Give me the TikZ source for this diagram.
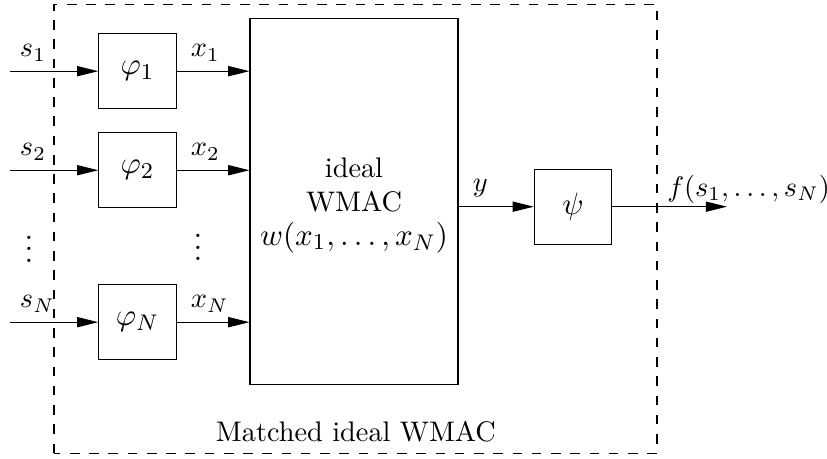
\documentclass[tikz,border=0pt]{standalone}
\usepackage{amsmath,amssymb}
\usepackage{tikz}
\usetikzlibrary{arrows.meta}
\newcommand{\boxmath}[1]{{\fontsize{11}{13.2}\selectfont$#1$}}

\begin{document}
\begin{tikzpicture}[>={Triangle[length=7.5pt,width=3.6pt]},
  blk/.style={draw,minimum width=0.96cm,minimum height=0.93cm}]
\useasboundingbox (0,0) rectangle (10.27,5.69);
\draw[dash pattern=on 3.4pt off 3.4pt] (0.671,0.062) rectangle (8.159,5.638);
\node (cap) at (4.42,0.33) {Matched ideal WMAC};
% encoders
\node[blk] (phi1) at (1.707,4.806) {\boxmath{\varphi_1}};
\node[blk] (phi2) at (1.707,3.576) {\boxmath{\varphi_2}};
\node[blk] (phiN) at (1.707,1.689) {\boxmath{\varphi_N}};
\node[inner sep=0pt,font=\large] (dl) at (0.36,2.70) {$\vdots$};
\node[inner sep=0pt,font=\large] (dm) at (2.459,2.72) {$\vdots$};
% channel and decoder
\node[draw,minimum width=2.582cm,minimum height=4.545cm] (wmac) at (4.396,3.191) {};
\node[align=center] (wtxt) at (4.396,3.14) {ideal\\WMAC\\\boxmath{w(x_1,\ldots,x_N)}};
\node[blk] (psi) at (7.116,3.123) {\boxmath{\psi}};
\coordinate (in1) at (0.124,4.806); \coordinate (in2) at (0.124,3.576);
\coordinate (inN) at (0.124,1.689); \coordinate (out) at (9.028,3.123);
\draw[->] (in1) -- node[pos=0,above right]{$s_1$} (phi1);
\draw[->] (in2) -- node[pos=0,above right]{$s_2$} (phi2);
\draw[->] (inN) -- node[pos=0,above right]{$s_N$} (phiN);
\draw[->] (phi1) -- node[pos=0,above right,xshift=1.5pt]{$x_1$} (phi1 -| wmac.west);
\draw[->] (phi2) -- node[pos=0,above right,xshift=1.5pt]{$x_2$} (phi2 -| wmac.west);
\draw[->] (phiN) -- node[pos=0,above right,xshift=1.5pt]{$x_N$} (phiN -| wmac.west);
\draw[->] (psi -| wmac.east) -- node[pos=0,above right,xshift=1.5pt]{$y$} (psi);
\draw[->] (psi) -- node[pos=0.45,above right,inner sep=1pt]{$f(s_1,\ldots,s_N)$} (out);
\end{tikzpicture}
\end{document}
